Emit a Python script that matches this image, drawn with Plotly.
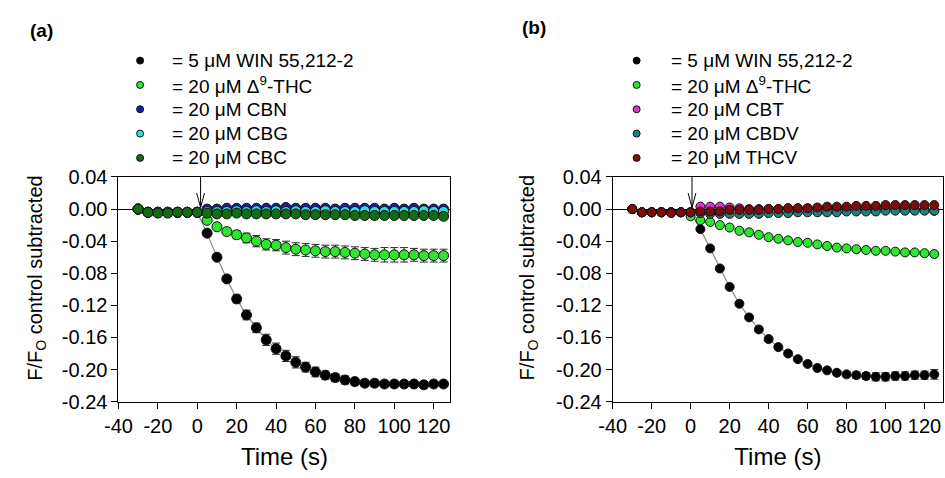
import plotly.graph_objects as go

# Sampling times (s); agonist added just after t = 0
time_s = list(range(-30, 130, 5))
inject_a = 1.7
inject_b = 0.7

# ---- Panel (a) ----
win_a = [0.000, -0.004, -0.004, -0.004, -0.004, -0.004, -0.004,
         -0.030, -0.060, -0.087, -0.112, -0.132, -0.148, -0.163, -0.174, -0.183,
         -0.191, -0.197, -0.203, -0.207, -0.210, -0.213, -0.215, -0.217, -0.217,
         -0.218, -0.218, -0.218, -0.218, -0.219, -0.218, -0.218]
win_a_err = [0.001, 0.001, 0.001, 0.001, 0.001, 0.001, 0.001,
             0.002, 0.003, 0.004, 0.005, 0.006, 0.006, 0.007, 0.007, 0.007,
             0.007, 0.006, 0.006, 0.005, 0.005, 0.005, 0.004, 0.004, 0.004,
             0.004, 0.004, 0.003, 0.003, 0.004, 0.003, 0.003]
thc_a = [0.000, -0.004, -0.004, -0.004, -0.004, -0.004, -0.004,
         -0.014, -0.022, -0.028, -0.032, -0.036, -0.040, -0.044, -0.045, -0.048,
         -0.050, -0.051, -0.052, -0.053, -0.053, -0.054, -0.055, -0.056, -0.057,
         -0.057, -0.057, -0.057, -0.057, -0.058, -0.058, -0.058]
thc_a_err = [0.001, 0.001, 0.001, 0.001, 0.001, 0.001, 0.001,
             0.002, 0.003, 0.004, 0.005, 0.006, 0.007, 0.007, 0.007, 0.008,
             0.008, 0.008, 0.008, 0.008, 0.008, 0.008, 0.008, 0.008, 0.008,
             0.009, 0.009, 0.009, 0.008, 0.008, 0.008, 0.008]
cbn_a = [0.000, -0.004, -0.004, -0.004, -0.004, -0.004, -0.004,
         0.000, 0.000, 0.001, 0.001, 0.001, 0.001, 0.001, 0.001, 0.002,
         0.001, 0.001, 0.001, 0.001, 0.000, 0.001, 0.001, 0.001, 0.001,
         0.000, 0.001, 0.000, 0.001, 0.000, 0.000, 0.000]
cbg_a = [0.000, -0.004, -0.004, -0.004, -0.004, -0.004, -0.004,
         -0.003, -0.003, -0.003, -0.002, -0.003, -0.002, -0.003, -0.002, -0.003,
         -0.002, -0.003, -0.003, -0.002, -0.003, -0.003, -0.003, -0.002, -0.003,
         -0.003, -0.003, -0.003, -0.003, -0.002, -0.003, -0.003]
cbc_a = [0.000, -0.004, -0.005, -0.005, -0.004, -0.004, -0.004,
         -0.005, -0.006, -0.006, -0.005, -0.006, -0.006, -0.006, -0.006, -0.006,
         -0.006, -0.007, -0.007, -0.007, -0.007, -0.007, -0.008, -0.008, -0.008,
         -0.008, -0.008, -0.008, -0.008, -0.008, -0.008, -0.009]
small_err = [0.001] * len(time_s)

# ---- Panel (b) ----
win_b = [0.000, -0.004, -0.004, -0.004, -0.004, -0.004, -0.004,
         -0.025, -0.049, -0.074, -0.097, -0.118, -0.135, -0.150, -0.162, -0.172,
         -0.180, -0.187, -0.193, -0.198, -0.201, -0.204, -0.206, -0.207, -0.208,
         -0.209, -0.209, -0.208, -0.208, -0.207, -0.207, -0.206]
win_b_err = [0.001, 0.001, 0.001, 0.001, 0.001, 0.001, 0.001,
             0.001, 0.002, 0.002, 0.002, 0.002, 0.002, 0.002, 0.002, 0.002,
             0.002, 0.002, 0.002, 0.002, 0.002, 0.002, 0.003, 0.004, 0.004,
             0.005, 0.005, 0.005, 0.005, 0.005, 0.005, 0.006]
thc_b = [0.000, -0.004, -0.004, -0.004, -0.004, -0.004, -0.009,
         -0.014, -0.016, -0.020, -0.023, -0.027, -0.029, -0.032, -0.035, -0.037,
         -0.039, -0.041, -0.042, -0.044, -0.046, -0.048, -0.049, -0.050, -0.051,
         -0.052, -0.052, -0.053, -0.054, -0.054, -0.055, -0.056]
cbt_b = [0.000, -0.004, -0.004, -0.004, -0.004, -0.004, -0.004,
         0.003, 0.003, 0.003, 0.002, 0.001, 0.000, 0.000, 0.000, 0.000,
         0.001, 0.001, 0.001, 0.001, 0.002, 0.002, 0.002, 0.002, 0.002,
         0.002, 0.002, 0.001, 0.001, 0.000, -0.001, -0.002]
cbdv_b = [0.000, -0.004, -0.004, -0.004, -0.004, -0.004, -0.004,
          -0.005, -0.006, -0.006, -0.006, -0.006, -0.006, -0.006, -0.005, -0.005,
          -0.005, -0.004, -0.004, -0.004, -0.004, -0.004, -0.003, -0.003, -0.003,
          -0.003, -0.002, -0.002, -0.002, -0.002, -0.002, -0.002]
thcv_b = [0.000, -0.004, -0.004, -0.004, -0.005, -0.004, -0.004,
          -0.003, -0.003, -0.003, -0.001, -0.001, -0.001, -0.001, 0.000, 0.000,
          0.001, 0.001, 0.001, 0.002, 0.003, 0.003, 0.003, 0.004, 0.004,
          0.004, 0.005, 0.005, 0.005, 0.005, 0.005, 0.005]

labels_a = ["= 5 μM WIN 55,212-2", "= 20 μM Δ<sup>9</sup>-THC", "= 20 μM CBN",
            "= 20 μM CBG", "= 20 μM CBC"]
colors_a = ["#000000", "#2ee62e", "#1c1cb4", "#2ee0e0", "#136b13"]
labels_b = ["= 5 μM WIN 55,212-2", "= 20 μM Δ<sup>9</sup>-THC", "= 20 μM CBT",
            "= 20 μM CBDV", "= 20 μM THCV"]
colors_b = ["#000000", "#2ee62e", "#e030d8", "#1f8080", "#7e0c0c"]

x_ticks = [-40, -20, 0, 20, 40, 60, 80, 100, 120]
x_ticktext = [str(v) for v in x_ticks]
y_ticks = [0.04, 0.00, -0.04, -0.08, -0.12, -0.16, -0.20, -0.24]
y_ticktext = [f"{v:.2f}" for v in y_ticks]

FONT = "Liberation Sans, Arial, sans-serif"
W, H = 945, 478

fig = go.Figure()


def add_panel(xa, ya, series, colors, errs, msize):
    # fitted trace line through the agonist response
    fig.add_trace(go.Scatter(x=time_s, y=series[0], mode="lines",
                             line=dict(color="#8a8a8a", width=1.2),
                             xaxis=xa, yaxis=ya, showlegend=False,
                             hoverinfo="skip"))
    for vals, col, err in zip(series, colors, errs):
        fig.add_trace(go.Scatter(
            x=time_s, y=vals, mode="markers", xaxis=xa, yaxis=ya,
            showlegend=False,
            marker=dict(size=msize, color=col, line=dict(color="#111111", width=1)),
            error_y=dict(type="data", array=err, color="#2a2a2a",
                         thickness=1, width=4)))


add_panel("x", "y", [win_a, thc_a, cbn_a, cbg_a, cbc_a], colors_a,
          [win_a_err, thc_a_err, small_err, small_err, small_err], 10)
add_panel("x2", "y2", [win_b, thc_b, cbt_b, cbdv_b, thcv_b], colors_b,
          [win_b_err, small_err, small_err, small_err, small_err], 9)

# Legend keys: markers on an invisible overlay axis laid out in paper units
KEY_BOTTOM = 0.66
row_gap = 25.5 / H
legend_top = 1 - 52 / H


def add_key(marker_px, text_px, labels, colors):
    ys = [legend_top - i * row_gap for i in range(len(labels))]
    fig.add_trace(go.Scatter(
        x=[marker_px / W] * len(labels), y=ys, mode="markers",
        xaxis="x3", yaxis="y3", showlegend=False, hoverinfo="skip",
        marker=dict(size=7, color=colors, line=dict(color="#111111", width=1))))
    for yv, lab in zip(ys, labels):
        fig.add_annotation(x=text_px / W, y=yv, xref="paper", yref="paper",
                           text=lab, showarrow=False, xanchor="left",
                           yanchor="middle", font=dict(size=19, color="#000"))


add_key(128, 158, labels_a, colors_a)
add_key(632, 665, labels_b, colors_b)

axis_common = dict(showline=True, linecolor="#000", linewidth=1, mirror=True,
                   ticks="outside", ticklen=6, tickwidth=1, tickcolor="#000",
                   showgrid=False, tickfont=dict(size=20, color="#000"))
y_dom = [1 - 409.5 / H, 1 - 174 / H]

fig.update_layout(
    width=W, height=H, margin=dict(l=0, r=0, t=0, b=0),
    paper_bgcolor="white", plot_bgcolor="rgba(0,0,0,0)",
    font=dict(family=FONT, size=20, color="#000"),
    xaxis=dict(domain=[106 / W, 443 / W], range=[-40, 128.5], anchor="y",
               tickvals=x_ticks, ticktext=x_ticktext, zeroline=False,
               title=dict(text="Time (s)", standoff=12), **axis_common),
    yaxis=dict(domain=y_dom, range=[-0.24, 0.04], anchor="x",
               tickvals=y_ticks, ticktext=y_ticktext,
               zeroline=True, zerolinecolor="#000", zerolinewidth=1, **axis_common),
    xaxis2=dict(domain=[607.7 / W, 943 / W], range=[-40, 129.5], anchor="y2",
                tickvals=x_ticks, ticktext=x_ticktext, zeroline=False,
                title=dict(text="Time (s)", standoff=12), **axis_common),
    yaxis2=dict(domain=y_dom, range=[-0.24, 0.04], anchor="x2",
                tickvals=y_ticks, ticktext=y_ticktext,
                zeroline=True, zerolinecolor="#000", zerolinewidth=1, **axis_common),
    xaxis3=dict(domain=[0, 1], range=[0, 1], anchor="y3", visible=False,
                fixedrange=True),
    yaxis3=dict(domain=[KEY_BOTTOM, 1], range=[KEY_BOTTOM, 1], anchor="x3",
                visible=False, fixedrange=True),
)

# Injection arrows (open V head)
for xr, yr, t0 in (("x", "y", inject_a), ("x2", "y2", inject_b)):
    fig.add_shape(type="line", xref=xr, yref=yr, x0=t0, x1=t0, y0=0.04, y1=0.002,
                  line=dict(color="#000", width=1))
    fig.add_shape(type="path", xref=xr, yref=yr,
                  path=f"M {t0 - 2},0.02 L {t0},0.002 L {t0 + 2},0.02",
                  line=dict(color="#000", width=1))

# Y axis titles and panel letters
for px in (22, 522):
    fig.add_annotation(x=px / W, y=1 - 280 / H, xref="paper", yref="paper",
                       text="F/F<sub>O</sub> control subtracted", textangle=-90,
                       showarrow=False, xanchor="center", yanchor="middle",
                       font=dict(size=20))
for px, py, tag in ((28, 20, "(a)"), (528, 17, "(b)")):
    fig.add_annotation(x=px / W, y=1 - py / H, xref="paper", yref="paper",
                       text=f"<b>{tag}</b>", showarrow=False,
                       xanchor="center", yanchor="middle", font=dict(size=19))

fig.write_html("out.html")
